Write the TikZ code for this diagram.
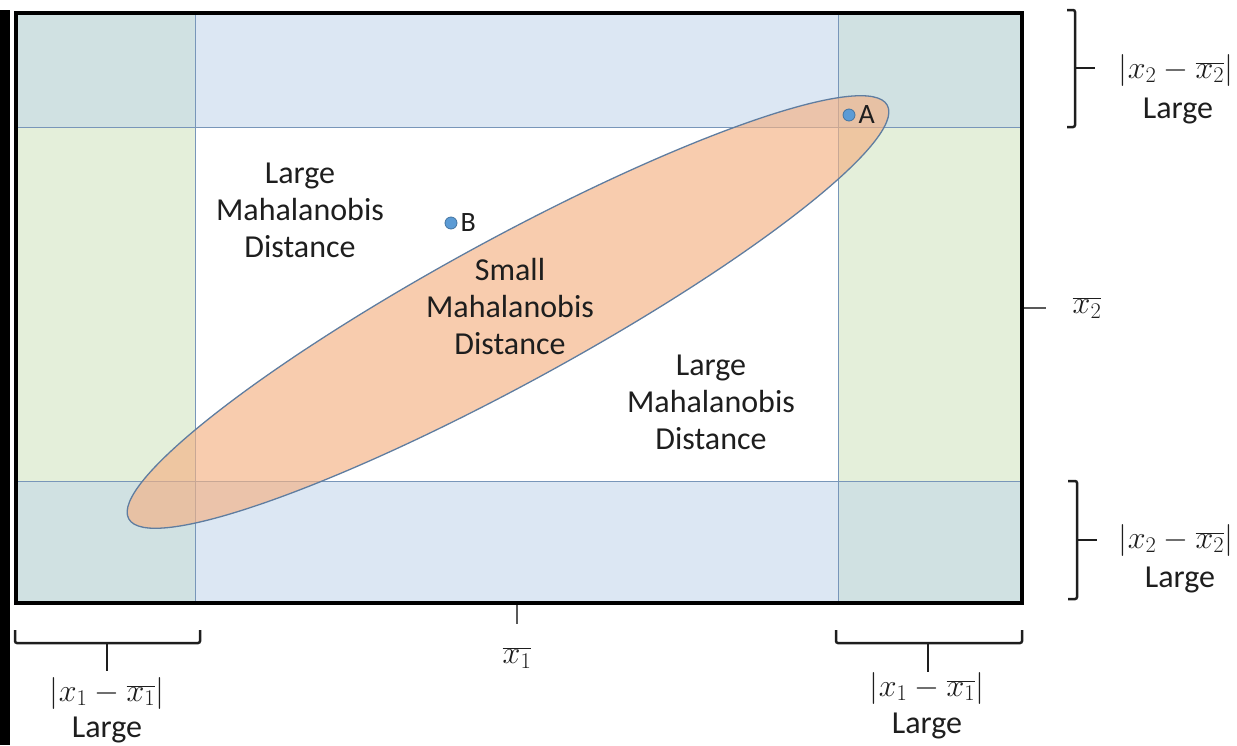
\documentclass[tikz,border=0pt]{standalone}
\usepackage{fix-cm}
\usepackage{fontspec}
\setmainfont{Carlito}
\usetikzlibrary{positioning,shapes.geometric}
\definecolor{cornerfill}{RGB}{208,225,226}
\definecolor{bandblue}{RGB}{220,231,243}
\definecolor{bandgreen}{RGB}{228,239,218}
\definecolor{gridline}{RGB}{120,150,185}
\definecolor{ellfill}{HTML}{F4B183}
\definecolor{ellrim}{RGB}{95,125,160}
\definecolor{dotblue}{HTML}{5B9BD5}
\definecolor{ink}{RGB}{30,30,30}
\tikzset{
  txt/.style={align=center,font=\fontsize{32}{37}\selectfont,text=ink,inner sep=0pt},
  mth/.style={font=\fontsize{32}{37}\selectfont,text=ink,inner sep=0pt},
  ptlbl/.style={font=\fontsize{28}{34}\selectfont,text=ink,inner sep=0pt},
  brace/.style={line width=2.5pt,ink,rounded corners=2pt},
  tickmark/.style={line width=1.5pt,black!65},
  dot/.style={circle,fill=dotblue,draw=dotblue!75!black,line width=0.8pt,minimum size=12pt,inner sep=0pt},
}
\begin{document}
\begin{tikzpicture}[x=1pt,y=-1pt]
\useasboundingbox (0,0) rectangle (1237,745);
\fill[black] (0,10) rectangle (10,745);
\fill[bandblue]   (14,11)  rectangle (1020,127);
\fill[bandblue]   (14,481) rectangle (1020,601);
\fill[bandgreen]  (14,127) rectangle (195,481);
\fill[bandgreen]  (838,127) rectangle (1020,481);
\fill[cornerfill] (14,11)  rectangle (195,127);
\fill[cornerfill] (838,11) rectangle (1020,127);
\fill[cornerfill] (14,481) rectangle (195,601);
\fill[cornerfill] (838,481) rectangle (1020,601);
\draw[gridline,line width=1pt] (195,11) -- (195,601) (838,11) -- (838,601)
  (14,127) -- (1020,127) (14,481) -- (1020,481);
\node[ellipse,minimum width=864pt,minimum height=144pt,inner sep=0pt,rotate=28.6,
  fill=ellfill,fill opacity=0.65,draw=ellrim,line width=1.3pt] (ell) at (508,312) {};
\node[draw,line width=4pt,minimum width=1006pt,minimum height=590pt,inner sep=0pt,
  anchor=north west] (box) at (14,11) {};
\node[txt] (farL) at (300,210) {Large\\Mahalanobis\\Distance};
\node[txt] (near) at (510,307) {Small\\Mahalanobis\\Distance};
\node[txt] (farR) at (711,402) {Large\\Mahalanobis\\Distance};
\node[dot] (A) at (849,115) {};
\node[ptlbl,right=3pt of A] (Alab) {A};
\node[dot] (B) at (451,223) {};
\node[ptlbl,right=3pt of B] (Blab) {B};
\node[mth] (x2bar) at (1087,308) {$\overline{x_2}$};
\node[mth] (x1bar) at (517,658) {$\overline{x_1}$};
\draw[tickmark] (box.east |- x2bar) -- ++(22,0);
\draw[tickmark] (box.south -| x1bar) -- ++(0,19);
\node[mth] (dev2T) at (1176,70) {$|x_2-\overline{x_2}|$};
\node[txt,anchor=base] (big2T) at (1178,118) {Large};
\node[mth] (dev2B) at (1176,540) {$|x_2-\overline{x_2}|$};
\node[txt,anchor=base] (big2B) at (1180,587) {Large};
\node[mth] (dev1L) at (107,693) {$|x_1-\overline{x_1}|$};
\node[txt,anchor=base] (big1L) at (107,737) {Large};
\node[mth] (dev1R) at (927,688) {$|x_1-\overline{x_1}|$};
\node[txt,anchor=base] (big1R) at (927,733) {Large};
\draw[brace] (1067,10) -- (1075,10) -- (1075,127) -- (1067,127);
\draw[brace] (1075,68) -- (1095,68);
\draw[brace] (1068,481) -- (1077,481) -- (1077,599) -- (1068,599);
\draw[brace] (1077,540) -- (1097,540);
\draw[brace] (15,630) -- (15,643) -- (200,643) -- (200,630);
\draw[brace] (107,643) -- (107,671);
\draw[brace] (836,630) -- (836,643) -- (1022,643) -- (1022,630);
\draw[brace] (928,643) -- (928,672);
\end{tikzpicture}
\end{document}
